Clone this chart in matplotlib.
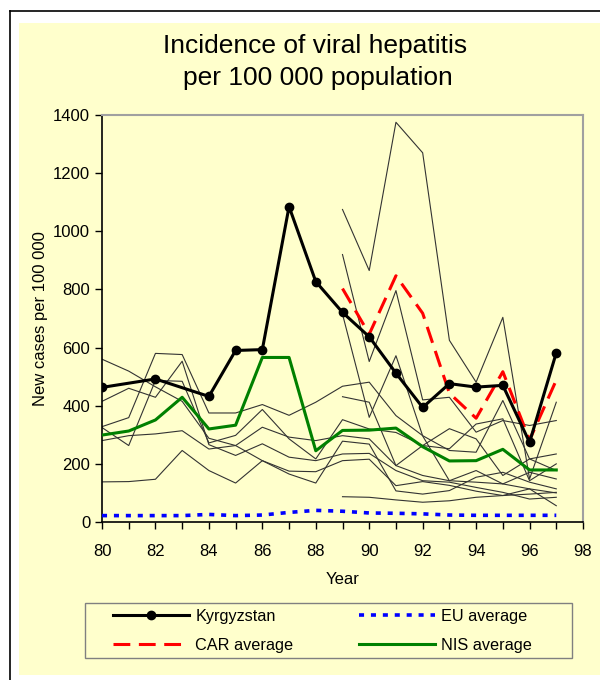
import numpy as np
import matplotlib
matplotlib.use("Agg")
import matplotlib.pyplot as plt
from matplotlib.lines import Line2D
from matplotlib.patches import Rectangle
from matplotlib.ticker import MultipleLocator

plt.rcParams['font.family'] = ['Liberation Sans', 'DejaVu Sans']

years = list(range(80, 98))
nan = np.nan

# main series
kg_years = [80, 82, 84, 85, 86, 87, 88, 89, 90, 91, 92, 93, 94, 95, 96, 97]
kyrgyzstan = [463, 492, 432, 590, 593, 1085, 827, 721, 637, 512, 394, 476, 464, 470, 274, 582]
car_years = [89, 90, 91, 92, 93, 94, 95, 96, 97]
car_avg = [803, 646, 847, 718, 443, 357, 517, 282, 488]
eu_avg = [22, 22, 22, 22, 26, 22, 24, 33, 40, 37, 31, 30, 28, 24, 23, 23, 23, 23]
nis_avg = [299, 313, 351, 429, 320, 333, 566, 566, 245, 315, 316, 323, 259, 210, 211, 250, 179, 179]

# individual countries (thin lines), 1980-1997
c1 = [560, 519, 465, 415, 288, 263, 326, 292, 280, 297, 286, 194, 160, 142, 137, 131, 114, 100]
c2 = [415, 460, 429, 553, 266, 229, 269, 223, 211, 234, 236, 177, 142, 137, 119, 102, 79, 85]
c3 = [328, 359, 580, 576, 375, 375, 404, 367, 412, 467, 481, 366, 297, 246, 240, 418, 217, 234]
c4 = [325, 263, 487, 484, 272, 298, 387, 286, 217, 352, 320, 308, 263, 252, 337, 355, 142, 200]
c5 = [280, 297, 303, 314, 251, 263, 211, 175, 173, 211, 216, 125, 139, 126, 106, 91, 96, 102]
c6 = [138, 139, 147, 246, 177, 134, 211, 165, 134, 278, 268, 107, 96, 108, 154, 171, 137, 114]
c7 = [nan] * 9 + [1075, 865, 1375, 1270, 625, 481, 704, 148, 412]
c8 = [nan] * 9 + [920, 552, 796, 420, 429, 309, 349, 332, 349]
c9 = [nan] * 9 + [431, 412, 194, 263, 321, 286, 160, 217, 177]
c10 = [nan] * 9 + [715, 360, 572, 296, 142, 177, 131, 171, 148]
c11 = [nan] * 9 + [87, 85, 76, 68, 73, 85, 91, 114, 56]
countries = [c1, c2, c3, c4, c5, c6, c7, c8, c9, c10, c11]

W, H = 600, 680
fig = plt.figure(figsize=(W / 100, H / 100), dpi=100)
fig.patch.set_facecolor('white')

def fx(px):
    return px / W

def fy(py):
    return 1 - py / H

# yellow panel and the black frame round it
fig.add_artist(Rectangle((fx(19), fy(675)), 1 - fx(19), (675 - 23) / H,
                         transform=fig.transFigure, facecolor='#FFFFCC', edgecolor='none', zorder=0))
fig.add_artist(Line2D([fx(10), fx(10)], [0, fy(11)], transform=fig.transFigure, color='black', lw=1.2))
fig.add_artist(Line2D([fx(10), 1], [fy(11), fy(11)], transform=fig.transFigure, color='black', lw=1.2))

ax = fig.add_axes([fx(102), fy(522), (583 - 102) / W, (522 - 115) / H])
ax.set_facecolor('#FFFFCC')

for c in countries:
    ax.plot(years, c, color='#333333', lw=0.8, zorder=2)

ax.plot(years, eu_avg, color='#0000FF', lw=2.6, linestyle=(0, (1.4, 1.9)),
        dash_capstyle='butt', label='EU average', zorder=3)
ax.plot(years, nis_avg, color='#008000', lw=2.2, label='NIS average', zorder=4)
ax.plot(car_years, car_avg, color='#FF0000', lw=2.2, linestyle=(0, (5.5, 2.8)),
        label='CAR average', zorder=5)
ax.plot(kg_years, kyrgyzstan, color='black', lw=2.2, marker='o', markersize=6,
        label='Kyrgyzstan', zorder=6)

ax.set_xlim(80, 98)
ax.set_ylim(0, 1400)
ax.xaxis.set_major_locator(MultipleLocator(2))
ax.xaxis.set_minor_locator(MultipleLocator(1))
ax.yaxis.set_major_locator(MultipleLocator(200))
ax.tick_params(axis='both', which='both', direction='out', length=5, width=1, labelsize=12)
ax.tick_params(axis='x', pad=11)

for s in ['top', 'right']:
    ax.spines[s].set_color('#A0A0A0')
    ax.spines[s].set_linewidth(1.5)
for s in ['left', 'bottom']:
    ax.spines[s].set_color('black')
    ax.spines[s].set_linewidth(1.2)

ax.set_xlabel('Year', fontsize=12, labelpad=9)
ax.set_ylabel('New cases per 100 000', fontsize=12, labelpad=4)

fig.text(fx(315), fy(46), 'Incidence of viral hepatitis', ha='center', va='center', fontsize=19)
fig.text(fx(318), fy(78), 'per 100 000 population', ha='center', va='center', fontsize=19)

# legend: frame drawn separately so it can be wider than its entries
fig.add_artist(Rectangle((fx(85), fy(658)), (572 - 85) / W, (658 - 603) / H,
                         transform=fig.transFigure, facecolor='none', edgecolor='#808080', lw=1.0))
handles, labels = ax.get_legend_handles_labels()
order = ['Kyrgyzstan', 'CAR average', 'EU average', 'NIS average']
hmap = dict(zip(labels, handles))
leg = fig.legend([hmap[k] for k in order], order, ncol=2,
                 loc='upper left', bbox_to_anchor=(fx(113), fy(609)),
                 frameon=False, fontsize=11.7, handlelength=4.7,
                 columnspacing=4.0, handletextpad=0.37, borderpad=0, borderaxespad=0,
                 labelspacing=0.85)

fig.savefig('out.png', dpi=100, facecolor='white')
